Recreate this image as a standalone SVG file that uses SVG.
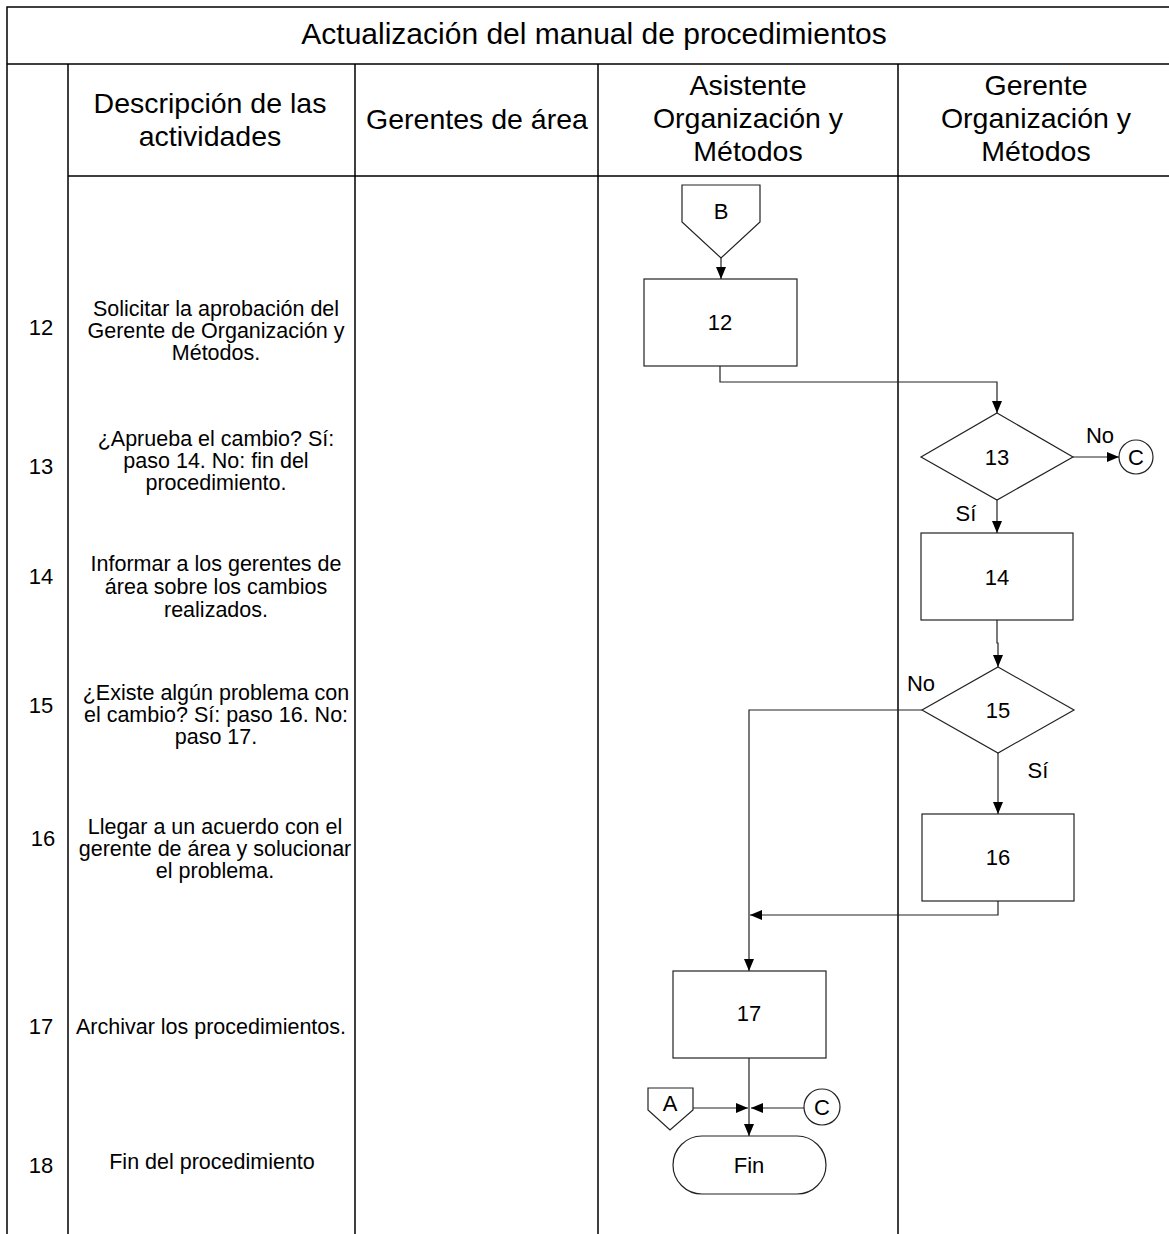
<svg xmlns="http://www.w3.org/2000/svg" width="1169" height="1234" viewBox="0 0 1169 1234">
<style>
text{font-family:"Liberation Sans",Arial,sans-serif;fill:#000}
.grid{stroke:#000;stroke-width:1.5;fill:none}
.shape{fill:#fff;stroke:#222;stroke-width:1.2}
.conn{fill:none;stroke:#222;stroke-width:1.2}
.title{font-size:30px;text-anchor:middle}
.hdr{font-size:28.5px;text-anchor:middle}
.desc{font-size:21.5px;text-anchor:middle}
.num{font-size:22px;text-anchor:middle}
.lbl{font-size:22px;text-anchor:middle}
</style>
<defs>
<marker id="arr" viewBox="0 0 12 10" refX="12" refY="5" markerWidth="12" markerHeight="10" markerUnits="userSpaceOnUse" orient="auto">
<path d="M0,0 L12,5 L0,10 Z" fill="#000"/>
</marker>
</defs>
<rect width="1169" height="1234" fill="#fff"/>
<g id="frame">
<path class="grid" d="M7,1234 V7 H1175 M7,64 H1169 M68,64 V1234 M355,64 V1234 M598,64 V1234 M898,64 V1234 M68,176 H1169"/>
<text class="title" x="594" y="44">Actualización del manual de procedimientos</text>
<text class="hdr" x="210" y="113">Descripción de las</text>
<text class="hdr" x="210" y="146">actividades</text>
<text class="hdr" x="477" y="129">Gerentes de área</text>
<text class="hdr" x="748" y="95">Asistente</text>
<text class="hdr" x="748" y="128">Organización y</text>
<text class="hdr" x="748" y="161">Métodos</text>
<text class="hdr" x="1036" y="95">Gerente</text>
<text class="hdr" x="1036" y="128">Organización y</text>
<text class="hdr" x="1036" y="161">Métodos</text>
</g>
<g id="rows">
<text class="num" x="41" y="335">12</text>
<text class="desc" x="216" y="316">Solicitar la aprobación del</text>
<text class="desc" x="216" y="338">Gerente de Organización y</text>
<text class="desc" x="216" y="360">Métodos.</text>
<text class="num" x="41" y="474">13</text>
<text class="desc" x="216" y="446">¿Aprueba el cambio? Sí:</text>
<text class="desc" x="216" y="468">paso 14. No: fin del</text>
<text class="desc" x="216" y="490">procedimiento.</text>
<text class="num" x="41" y="584">14</text>
<text class="desc" x="216" y="571">Informar a los gerentes de</text>
<text class="desc" x="216" y="594">área sobre los cambios</text>
<text class="desc" x="216" y="617">realizados.</text>
<text class="num" x="41" y="713">15</text>
<text class="desc" x="216" y="700">¿Existe algún problema con</text>
<text class="desc" x="216" y="722">el cambio? Sí: paso 16. No:</text>
<text class="desc" x="216" y="744">paso 17.</text>
<text class="num" x="43" y="846">16</text>
<text class="desc" x="215" y="834">Llegar a un acuerdo con el</text>
<text class="desc" x="215" y="856">gerente de área y solucionar</text>
<text class="desc" x="215" y="878">el problema.</text>
<text class="num" x="41" y="1034">17</text>
<text class="desc" x="211" y="1034">Archivar los procedimientos.</text>
<text class="num" x="41" y="1173">18</text>
<text class="desc" x="212" y="1169">Fin del procedimiento</text>
</g>
<g id="connectors">
<path class="conn" d="M721,258 V279" marker-end="url(#arr)"/>
<path class="conn" d="M720,366 V382 H997 V413" marker-end="url(#arr)"/>
<path class="conn" d="M1073,457 H1119" marker-end="url(#arr)"/>
<path class="conn" d="M997,500 V533" marker-end="url(#arr)"/>
<path class="conn" d="M997,620 V643 H998 V667" marker-end="url(#arr)"/>
<path class="conn" d="M998,753 V814" marker-end="url(#arr)"/>
<path class="conn" d="M922,710 H749 V971" marker-end="url(#arr)"/>
<path class="conn" d="M998,901 V915 H750" marker-end="url(#arr)"/>
<path class="conn" d="M749,1058 V1136" marker-end="url(#arr)"/>
<path class="conn" d="M693,1108 H748" marker-end="url(#arr)"/>
<path class="conn" d="M804,1108 H751" marker-end="url(#arr)"/>
<text class="lbl" x="1100" y="443">No</text>
<text class="lbl" x="966" y="521">Sí</text>
<text class="lbl" x="1038" y="778">Sí</text>
<text class="lbl" x="921" y="691">No</text>
</g>
<g id="nodeB">
<polygon class="shape" points="682,185 760,185 760,222 721,258 682,222"/>
<text class="lbl" x="721" y="219">B</text>
</g>
<g id="node12">
<rect class="shape" x="644" y="279" width="153" height="87"/>
<text class="lbl" x="720" y="330">12</text>
</g>
<g id="node13">
<polygon class="shape" points="997,413 1073,457 997,500 921,457"/>
<text class="lbl" x="997" y="465">13</text>
</g>
<g id="nodeC1">
<circle class="shape" cx="1136" cy="457" r="17"/>
<text class="lbl" x="1136" y="465">C</text>
</g>
<g id="node14">
<rect class="shape" x="921" y="533" width="152" height="87"/>
<text class="lbl" x="997" y="585">14</text>
</g>
<g id="node15">
<polygon class="shape" points="998,667 1074,710 998,753 922,710"/>
<text class="lbl" x="998" y="718">15</text>
</g>
<g id="node16">
<rect class="shape" x="922" y="814" width="152" height="87"/>
<text class="lbl" x="998" y="865">16</text>
</g>
<g id="node17">
<rect class="shape" x="673" y="971" width="153" height="87"/>
<text class="lbl" x="749" y="1021">17</text>
</g>
<g id="nodeA">
<polygon class="shape" points="648,1088 693,1088 693,1110 670,1130 648,1110"/>
<text class="lbl" x="670" y="1111">A</text>
</g>
<g id="nodeC2">
<circle class="shape" cx="822" cy="1107" r="18"/>
<text class="lbl" x="822" y="1115">C</text>
</g>
<g id="nodeFin">
<rect class="shape" x="673" y="1136" width="153" height="58" rx="29" ry="29"/>
<text class="lbl" x="749" y="1173">Fin</text>
</g>
</svg>
